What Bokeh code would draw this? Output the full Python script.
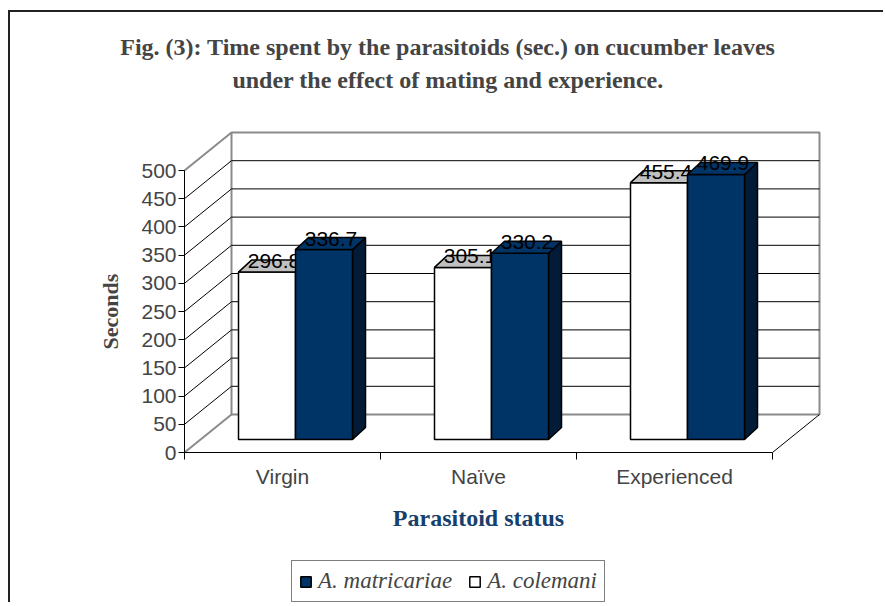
from bokeh.plotting import figure
from bokeh.models import (Range1d, LinearAxis, FixedTicker, Title, Legend, LegendItem)
from bokeh.core.properties import value
from bokeh.embed import file_html
from bokeh.resources import INLINE

# ---------------- data ----------------
categories = ["Virgin", "Naïve", "Experienced"]
colemani = [296.8, 305.1, 455.4]        # A. colemani (white)
matricariae = [336.7, 330.2, 469.9]     # A. matricariae (blue)
y_ticks = [0, 50, 100, 150, 200, 250, 300, 350, 400, 450, 500]
y_max = 500
title_lines = ["Fig. (3): Time spent by the parasitoids (sec.) on cucumber leaves",
               "under the effect of mating and experience."]

# ---------------- layout (page px) ----------------
OX, OY = 10, 12                 # canvas origin on page (after css margin + border)
W, H = 875, 592
F_TOP = 98                      # frame top (page px), title panels above it
AX_X, AX_Y = 184, 452           # page position of the front axes origin
PX_CAT = 196.0                  # px per category
PX_VAL = 0.564                  # px per value unit

x0 = -(AX_X - OX) / PX_CAT
x1 = (OX + W - AX_X) / PX_CAT
y0 = -(OY + H - AX_Y) / PX_VAL
y1 = (AX_Y - F_TOP) / PX_VAL

# 3-D offsets (converted to data units)
dX, dV = 47 / PX_CAT, 38 / PX_VAL            # full wall depth
fx, fv = 13 / PX_CAT, 13 / PX_VAL            # bar front-face offset
tx, tv = 13 / PX_CAT, 12 / PX_VAL            # bar depth
bw = 57 / PX_CAT                             # bar width
n = len(categories)

p = figure(width=W, height=H, x_range=Range1d(x0, x1), y_range=Range1d(y0, y1),
           output_backend="svg", toolbar_location=None,
           x_axis_type=None, y_axis_type=None,
           min_border_left=0, min_border_right=0,
           min_border_top=F_TOP - OY, min_border_bottom=0)
p.outline_line_color = None
p.background_fill_color = "white"
p.border_fill_color = "white"
p.xgrid.visible = False
p.ygrid.visible = False
p.styles = {"border-left": "2px solid #222", "border-top": "2px solid #222",
            "margin-top": "10px", "margin-left": "8px"}

GRAY = "#8a8a8a"
# back wall
p.quad(left=[dX], right=[n + dX], bottom=[dV], top=[y_max + dV],
       fill_color="white", line_color=GRAY, line_width=2)
# back-wall gridlines
inner = [t for t in y_ticks if 0 < t < y_max]
p.segment(x0=[dX] * len(inner), y0=[t + dV for t in inner],
          x1=[n + dX] * len(inner), y1=[t + dV for t in inner],
          line_color="black", line_width=1)
# side-wall diagonals
p.segment(x0=[0] * len(inner), y0=inner, x1=[dX] * len(inner), y1=[t + dV for t in inner],
          line_color="black", line_width=1)
p.segment(x0=[0, 0], y0=[0, y_max], x1=[dX, dX], y1=[dV, y_max + dV],
          line_color=GRAY, line_width=2)
# floor right diagonal
p.segment(x0=[n], y0=[0], x1=[n + dX], y1=[dV], line_color="black", line_width=1)

# ---------------- bars ----------------
def bar_geom(vals, side):
    L, R, B, T = [], [], [], []
    for i, v in enumerate(vals):
        c = i + 0.5
        if side == "left":
            l, r = c - bw + fx, c + fx
        else:
            l, r = c + fx, c + bw + fx
        L.append(l); R.append(r); B.append(fv); T.append(v + fv)
    tops_x = [[l, l + tx, r + tx, r] for l, r in zip(L, R)]
    tops_y = [[t, t + tv, t + tv, t] for t in T]
    side_x = [[r, r + tx, r + tx, r] for r in R]
    side_y = [[b, b + tv, t + tv, t] for b, t in zip(B, T)]
    return L, R, B, T, tops_x, tops_y, side_x, side_y

BLUE, BLUE_SIDE, WHITE_TOP = "#003366", "#021c38", "#c0c0c0"
series = [(colemani, "left", "white", WHITE_TOP, "white"),
          (matricariae, "right", BLUE, BLUE, BLUE_SIDE)]
front_r = []
for vals, side, fc, topc, sidec in series:
    L, R, B, T, txs, tys, sxs, sys_ = bar_geom(vals, side)
    p.patches(xs=sxs, ys=sys_, fill_color=sidec, line_color="black", line_width=1.5)
    r = p.quad(left=L, right=R, bottom=B, top=T, fill_color=fc, line_color="black",
               line_width=1.5)
    p.patches(xs=txs, ys=tys, fill_color=topc, line_color="black", line_width=1.5)
    front_r.append(r)
    lab_x = [(l + r_) / 2 + 7 / PX_CAT for l, r_ in zip(L, R)]
    lab_y = [t + 11 / PX_VAL for t in T]
    p.text(x=lab_x, y=lab_y, text=[f"{v:.1f}" for v in vals],
           text_font=value("Liberation Sans"), text_font_size="21px",
           text_align="center", text_baseline="middle", text_color="black")

# ---------------- axes (fixed at the front corner) ----------------
yax = LinearAxis(ticker=FixedTicker(ticks=y_ticks), bounds=(0, y_max), fixed_location=0)
yax.axis_label = "Seconds"
yax.axis_label_text_font = "Liberation Serif"
yax.axis_label_text_font_style = "bold"
yax.axis_label_text_font_size = "22px"
yax.axis_label_standoff = 15
yax.major_label_text_font = "Liberation Sans"
yax.major_label_text_font_size = "21px"
yax.major_label_standoff = 2
yax.major_tick_out = 6
yax.major_tick_in = 0
yax.minor_tick_out = 0
yax.axis_line_color = "black"
yax.major_tick_line_color = "black"
p.add_layout(yax, "left")

centers = [i + 0.5 for i in range(n)]
xax = LinearAxis(ticker=FixedTicker(ticks=centers, minor_ticks=list(range(n + 1))),
                 bounds=(0, n), fixed_location=0)
xax.major_label_overrides = {c: lab for c, lab in zip(centers, categories)}
xax.major_label_text_font = "Liberation Sans"
xax.major_label_text_font_size = "21px"
xax.major_label_standoff = 5
xax.major_tick_out = 0
xax.major_tick_in = 0
xax.minor_tick_out = 7
xax.minor_tick_in = 0
xax.minor_tick_line_color = "black"
xax.axis_line_color = "black"
xax.axis_label = "Parasitoid status"
xax.axis_label_text_font = "Liberation Serif"
xax.axis_label_text_font_style = "bold"
xax.axis_label_text_font_size = "24px"
xax.axis_label_text_color = "#17406d"
xax.axis_label_standoff = 14
p.add_layout(xax, "below")

# ---------------- legend ----------------
legend = Legend(items=[LegendItem(label="A. matricariae", renderers=[front_r[1]]),
                       LegendItem(label="A. colemani", renderers=[front_r[0]])],
                orientation="horizontal", location=(291 - OX, 2),
                label_text_font="Liberation Serif", label_text_font_style="italic",
                label_text_font_size="23px", glyph_width=13, glyph_height=13,
                border_line_color="black", border_line_width=1, padding=7, spacing=16,
                label_standoff=6, margin=0, background_fill_color="white")
p.add_layout(legend)

# ---------------- title (two centred lines) ----------------
t2 = Title(text=title_lines[1], align="center", text_font="Liberation Serif",
           text_font_style="bold", text_font_size="24px", standoff=11)
t1 = Title(text=title_lines[0], align="center", text_font="Liberation Serif",
           text_font_style="bold", text_font_size="24px", standoff=0)
p.add_layout(t2, "above")
p.add_layout(t1, "above")

open("out.html", "w").write(file_html(p, INLINE))
